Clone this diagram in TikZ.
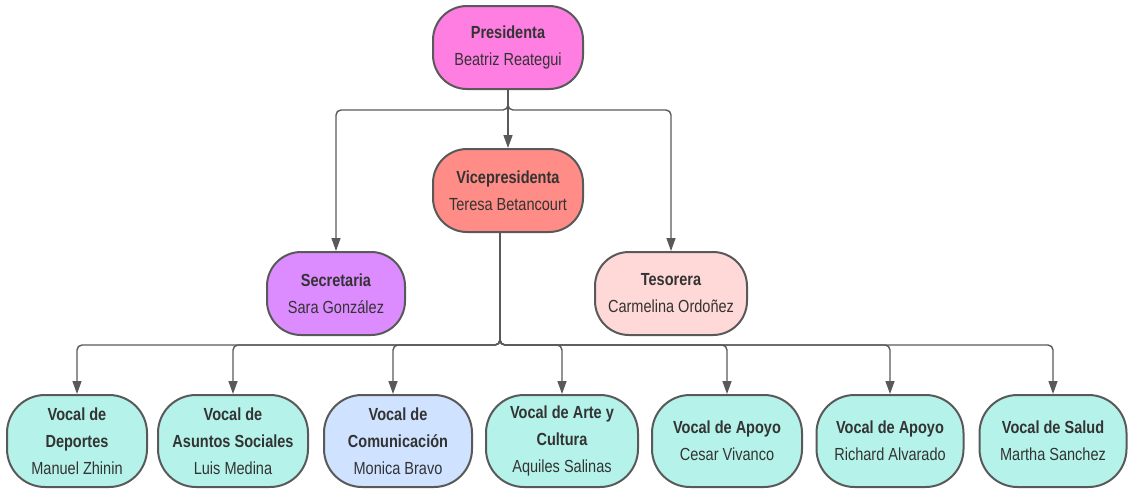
\documentclass[tikz,border=0pt]{standalone}
\usepackage{fontspec}
\setmainfont{Liberation Sans}[FakeStretch=0.83]
\usetikzlibrary{arrows.meta}
\definecolor{edgec}{HTML}{595959}
\definecolor{cpres}{HTML}{FF7EE2}
\definecolor{cvice}{HTML}{FF8C86}
\definecolor{csec}{HTML}{DD8CFF}
\definecolor{ctes}{HTML}{FFD8D8}
\definecolor{cvoc}{HTML}{B5F3EA}
\definecolor{ccom}{HTML}{CFE2FF}
\definecolor{txt}{HTML}{333333}
\tikzset{
  box/.style={draw=edgec, line width=2pt, rounded corners=34pt, align=center,
    text=txt, font=\fontsize{17.5}{27}\selectfont, inner sep=0pt,
    minimum height=83pt},
  vocal/.style={box, minimum height=92pt, rounded corners=38pt},
  conn/.style={draw=edgec, line width=1.4pt, rounded corners=5pt,
    -{Triangle[length=13pt,width=9pt]}}
}
\begin{document}
\begin{tikzpicture}[x=1pt,y=-1pt]
\useasboundingbox (0,0) rectangle (1129,488);
\node[box, fill=cpres, minimum width=150pt] (pres) at (508,47.5) {\textbf{Presidenta}\\Beatriz Reategui};
\node[box, fill=cvice, minimum width=150pt] (vice) at (508,190.5) {\textbf{Vicepresidenta}\\Teresa Betancourt};
\node[box, fill=csec, minimum width=138pt] (sec) at (336,293.5) {\textbf{Secretaria}\\Sara González};
\node[box, fill=ctes, minimum width=152pt] (tes) at (671,293.5) {\textbf{Tesorera}\\Carmelina Ordoñez};

\node[vocal, fill=cvoc, minimum width=140pt] (v1) at (77,441) {\textbf{Vocal de}\\\textbf{Deportes}\\Manuel Zhinin};
\node[vocal, fill=cvoc, minimum width=150pt] (v2) at (233,441) {\textbf{Vocal de}\\\textbf{Asuntos Sociales}\\Luis Medina};
\node[vocal, fill=ccom, minimum width=148pt] (v3) at (398,441) {\textbf{Vocal de}\\\textbf{Comunicación}\\Monica Bravo};
\node[vocal, fill=cvoc, minimum width=152pt] (v4) at (562,441) {\textbf{Vocal de Arte y}\\\textbf{Cultura}\\Aquiles Salinas};
\node[vocal, fill=cvoc, minimum width=150pt] (v5) at (727,441) {\textbf{Vocal de Apoyo}\\Cesar Vivanco};
\node[vocal, fill=cvoc, minimum width=147pt] (v6) at (890,441) {\textbf{Vocal de Apoyo}\\Richard Alvarado};
\node[vocal, fill=cvoc, minimum width=147pt] (v7) at (1053,441) {\textbf{Vocal de Salud}\\Martha Sanchez};

\coordinate (pj) at (508,110);
\coordinate (vj) at (500,345);
\draw[conn] (pres.south) -- (vice.north);
\draw[conn] (pres.south) |- (pj) -| (sec.north);
\draw[conn] (pres.south) |- (pj) -| (tes.north);
\draw[conn] ([xshift=-8pt]vice.south) |- (vj) -| (v1.north);
\draw[conn] ([xshift=-8pt]vice.south) |- (vj) -| (v2.north);
\draw[conn] ([xshift=-8pt]vice.south) |- (vj) -| ([xshift=-5pt]v3.north);
\draw[conn] ([xshift=-8pt]vice.south) |- (vj) -| (v4.north);
\draw[conn] ([xshift=-8pt]vice.south) |- (vj) -| (v5.north);
\draw[conn] ([xshift=-8pt]vice.south) |- (vj) -| (v6.north);
\draw[conn] ([xshift=-8pt]vice.south) |- (vj) -| (v7.north);
\end{tikzpicture}
\end{document}
